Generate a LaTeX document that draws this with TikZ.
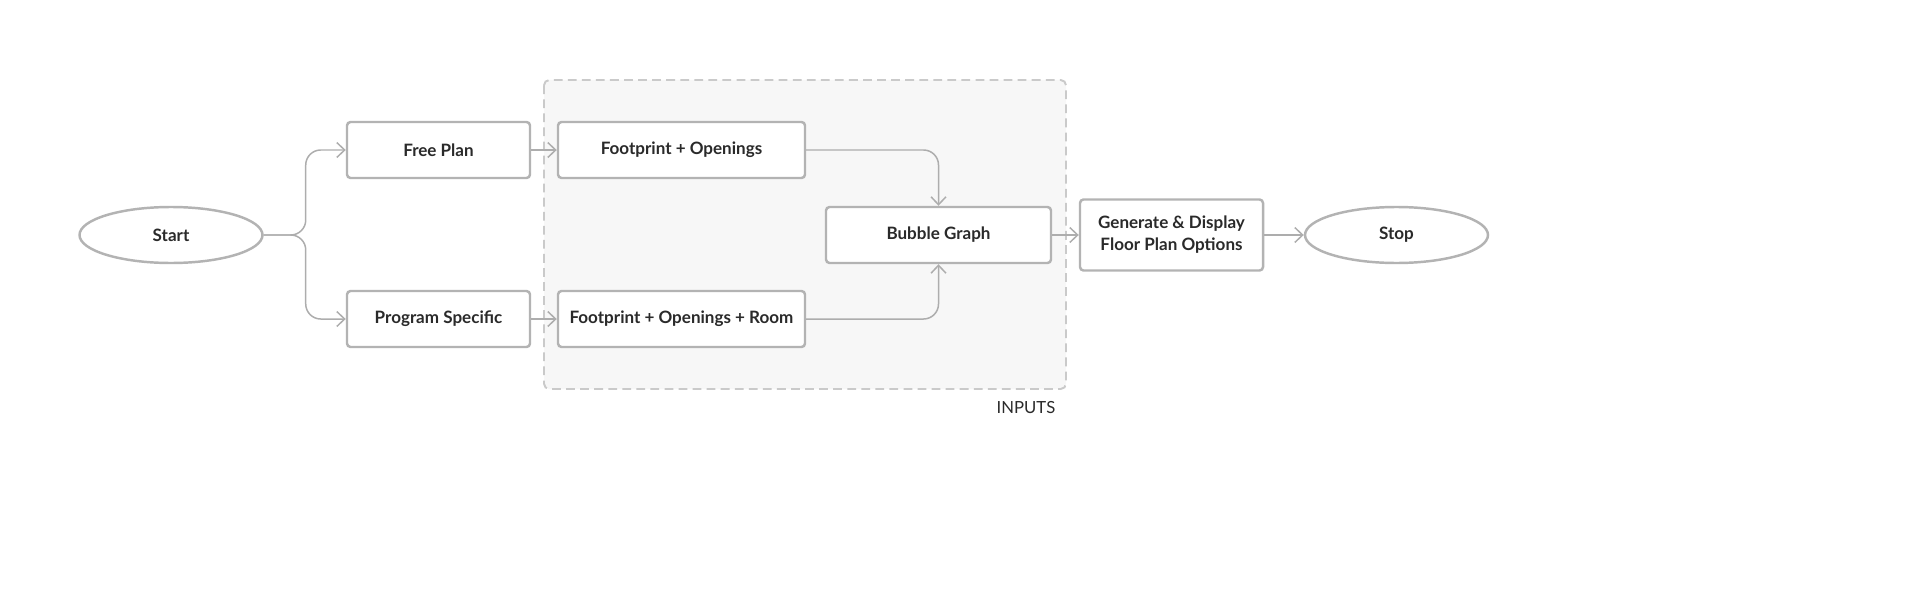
\documentclass[tikz,border=0pt]{standalone}
\usepackage{fontspec}
\setmainfont{Lato}
\usetikzlibrary{shapes.geometric,arrows.meta}
\definecolor{edgegray}{HTML}{B3B3B3}
\definecolor{linegray}{HTML}{ADADAD}
\definecolor{dashgray}{HTML}{CACACA}
\definecolor{regionfill}{HTML}{F7F7F7}
\definecolor{textdark}{HTML}{2A2A2A}

\begin{document}
\begin{tikzpicture}[
  box/.style={draw=edgegray,line width=1.4pt,rounded corners=2pt,fill=white,
    minimum width=3.66cm,minimum height=1.12cm,inner sep=0pt,align=center,
    text=textdark,font=\fontsize{9.7}{12.5}\selectfont\bfseries},
  term/.style={draw=edgegray,line width=1.4pt,ellipse,fill=white,
    minimum width=3.66cm,minimum height=1.12cm,inner sep=0pt,
    text=textdark,font=\fontsize{9.7}{12.5}\selectfont\bfseries},
  flow/.style={draw=linegray,line width=0.85pt,rounded corners=0.3cm,
    -{Straight Barb[length=4.5pt,width=8.5pt]}}
]
\useasboundingbox (0,0) rectangle (38.4,-12.04);

\draw[dashgray,fill=regionfill,line width=1.1pt,dash pattern=on 5pt off 3pt,rounded corners=3pt]
  (10.88,-1.60) rectangle (21.32,-7.78);
\node[text=textdark,font=\fontsize{9.5}{12}\selectfont] (inputs) at (20.52,-8.16) {INPUTS};

\node[term] (start) at (3.42,-4.70) {Start};
\node[box] (free) at (8.77,-3.00) {Free Plan};
\node[box] (program) at (8.77,-6.38) {Program Specific};
\node[box,minimum width=4.94cm] (footprint) at (13.63,-3.00) {Footprint + Openings};
\node[box,minimum width=4.94cm] (footroom) at (13.63,-6.38) {Footprint + Openings + Room};
\node[box,minimum width=4.50cm] (bubble) at (18.77,-4.70) {Bubble Graph};
\node[box,minimum height=1.42cm] (generate) at (23.43,-4.70) {Generate \& Display\\Floor Plan Options};
\node[term] (stop) at (27.93,-4.70) {Stop};

\draw[flow] (start.east) -- ++(0.84,0) |- (free.west);
\draw[flow] (start.east) -- ++(0.84,0) |- (program.west);
\draw[flow] (free) -- (footprint);
\draw[flow] (program) -- (footroom);
\draw[flow] (footprint.east) -| (bubble.north);
\draw[flow] (footroom.east) -| (bubble.south);
\draw[flow] (bubble) -- (generate);
\draw[flow] (generate) -- (stop);

\end{tikzpicture}
\end{document}
